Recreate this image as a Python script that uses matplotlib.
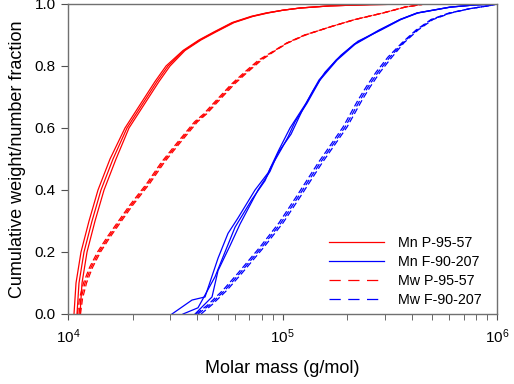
import matplotlib
matplotlib.use('Agg')
import matplotlib.pyplot as plt
from matplotlib.lines import Line2D
from matplotlib.ticker import LogLocator, LogFormatterMathtext

plt.rcParams['font.family'] = ['Liberation Sans', 'DejaVu Sans']
plt.rcParams['mathtext.default'] = 'regular'

# Mn P-95-57, three replicates (molar mass g/mol vs cumulative fraction)
mn_p_frac = [0.0, 0.1, 0.2, 0.3, 0.4, 0.5, 0.6, 0.65, 0.7, 0.75, 0.8, 0.85, 0.884, 0.91,
             0.94, 0.96, 0.971, 0.98, 0.987, 0.994, 0.998, 1.0]
mn_p_mass_a = [10666, 10898, 11498, 12531, 13800, 15700, 18438, 20530, 22858, 25450, 28640, 34370, 40815, 47938,
               58176, 71320, 83770, 100540, 120690, 166530, 255840, 423640]
mn_p_mass_b = [11014, 11253, 11874, 12941, 14250, 16210, 18838, 20975, 23354, 26001, 29260, 34740, 41255, 48455,
               58806, 72090, 84672, 100540, 120690, 166530, 255840, 423640]
mn_p_mass_c = [11375, 11623, 12265, 13365, 14722, 16743, 19246, 21429, 23860, 26566, 29895, 35115, 41700, 48980,
               59440, 72870, 85590, 100540, 120690, 166530, 255840, 423640]

# Mw P-95-57, three replicates
mw_p_frac = [0.0, 0.05, 0.1, 0.15, 0.2, 0.25, 0.3, 0.35, 0.42, 0.49, 0.55, 0.62, 0.645, 0.68, 0.742, 0.78,
             0.819, 0.85, 0.874, 0.9, 0.926, 0.95, 0.971, 0.99, 1.0]
mw_p_mass_a = [11073, 11313, 11811, 12599, 13725, 15285, 17196, 19352, 23230, 27284, 32050, 38895, 42830, 47680,
               57870, 66500, 77280, 91770, 104390, 126650, 166530, 217770, 294080, 372400, 461700]
mw_p_mass_b = [11253, 11498, 12003, 12803, 13948, 15532, 17475, 19666, 23605, 27727, 32570, 39528, 43523, 48455,
               58806, 67573, 78534, 92262, 104950, 127340, 166530, 217770, 294080, 372400, 461700]
mw_p_mass_c = [11436, 11686, 12200, 13010, 14174, 15784, 17760, 19985, 23990, 28180, 33104, 40163, 44230, 49240,
               59760, 68670, 79800, 92760, 105520, 128030, 166530, 217770, 294080, 372400, 461700]

# Mn F-90-207, three replicates (noisy at low fractions)
mn_f_frac_a = [0.0, 0.045, 0.055, 0.18, 0.26, 0.31, 0.4, 0.455, 0.53, 0.6, 0.68, 0.755, 0.819, 0.87,
               0.916, 0.95, 0.971, 0.99, 0.997, 1.0]
mn_f_mass_a = [30530, 37850, 43523, 50050, 55700, 62030, 74440, 85590, 96290, 108390, 128700, 147990, 177620, 215440,
               281760, 353100, 423640, 603800, 789600, 1000000]
mn_f_frac_b = [0.0, 0.02, 0.12, 0.2, 0.28, 0.37, 0.43, 0.474, 0.53, 0.571, 0.62, 0.68, 0.755, 0.819, 0.87,
               0.916, 0.95, 0.971, 0.99, 0.997, 1.0]
mn_f_mass_b = [34370, 40360, 48455, 53950, 60080, 72090, 82870, 88390, 98400, 106080, 114370, 130100, 149600, 179540,
               217770, 284800, 353100, 423640, 603800, 789600, 1000000]
mn_f_frac_c = [0.0, 0.055, 0.14, 0.22, 0.29, 0.4, 0.46, 0.52, 0.58, 0.655, 0.72, 0.78, 0.835, 0.88,
               0.916, 0.95, 0.971, 0.99, 0.997, 1.0]
mn_f_mass_c = [39090, 46920, 50050, 56900, 63370, 76870, 87440, 95290, 109560, 123300, 138740, 157830, 187380, 224870,
               287850, 356900, 428200, 610300, 789600, 1000000]

# Mw F-90-207, three replicates
mw_f_frac = [0.0, 0.03, 0.077, 0.132, 0.216, 0.294, 0.377, 0.487, 0.603, 0.69, 0.732, 0.78, 0.829, 0.875,
             0.916, 0.95, 0.971, 0.985, 0.995, 1.0]
mw_f_mass_a = [39530, 44950, 52800, 62030, 78530, 96290, 115600, 146400, 191450, 224870, 245130, 272800, 310360, 360700,
               419100, 492500, 597400, 748300, 927700, 1000000]
mw_f_mass_b = [40360, 45920, 53950, 63370, 80230, 98400, 118110, 149600, 195610, 229810, 250350, 278760, 317110, 364560,
               423640, 497800, 603800, 748300, 927700, 1000000]
mw_f_mass_c = [41700, 46920, 55140, 64750, 81970, 100540, 120690, 152800, 199860, 234800, 255840, 284800, 324000, 368500,
               428200, 503200, 610300, 748300, 927700, 1000000]

legend_labels = ['Mn P-95-57', 'Mn F-90-207', 'Mw P-95-57', 'Mw F-90-207']

red = '#ff0000'
blue = '#0000ff'
dash = (0, (5, 2.5))

figure = plt.figure(figsize=(5.14, 3.84), dpi=100)
axis = figure.add_axes([0.1323, 0.1823, 0.8347, 0.8073])

for mass in [mn_p_mass_a, mn_p_mass_b, mn_p_mass_c]:
    axis.plot(mass, mn_p_frac, color=red, linewidth=0.9)
for mass in [mw_p_mass_a, mw_p_mass_b, mw_p_mass_c]:
    axis.plot(mass, mw_p_frac, color=red, linewidth=0.9, linestyle=dash)
for mass, frac in [(mn_f_mass_a, mn_f_frac_a), (mn_f_mass_b, mn_f_frac_b), (mn_f_mass_c, mn_f_frac_c)]:
    axis.plot(mass, frac, color=blue, linewidth=0.9)
for mass in [mw_f_mass_a, mw_f_mass_b, mw_f_mass_c]:
    axis.plot(mass, mw_f_frac, color=blue, linewidth=0.9, linestyle=dash)

axis.set_xscale('log')
axis.set_xlim(1e4, 1e6)
axis.set_ylim(0, 1.0)
axis.set_yticks([0.0, 0.2, 0.4, 0.6, 0.8, 1.0])
axis.set_yticklabels(['0.0', '0.2', '0.4', '0.6', '0.8', '1.0'])
axis.xaxis.set_major_locator(LogLocator(base=10))
axis.xaxis.set_major_formatter(LogFormatterMathtext())
axis.xaxis.set_minor_locator(LogLocator(base=10, subs=range(2, 10)))

for spine in axis.spines.values():
    spine.set_color('#707070')
    spine.set_linewidth(1.0)
axis.tick_params(axis='both', which='major', direction='out', length=5, color='#505050',
                 labelsize=11, pad=4, top=False, right=False)
axis.tick_params(axis='x', which='minor', direction='out', length=4, color='#505050', top=False)
axis.tick_params(axis='x', which='major', length=4, pad=6)

axis.set_xlabel('Molar mass (g/mol)', fontsize=13, labelpad=10)
axis.set_ylabel('Cumulative weight/number fraction', fontsize=13, labelpad=6)

handles = [
    Line2D([], [], color=red, linewidth=0.9),
    Line2D([], [], color=blue, linewidth=0.9),
    Line2D([], [], color=red, linewidth=0.9, linestyle=(0, (9, 6))),
    Line2D([], [], color=blue, linewidth=0.9, linestyle=(0, (9, 6))),
]
axis.legend(handles, legend_labels, loc='lower right', bbox_to_anchor=(0.995, -0.02), frameon=False,
            fontsize=10.3, handlelength=3.85, handletextpad=1.0, labelspacing=0.36)

plt.savefig('out.png', dpi=100)
plt.close(figure)
